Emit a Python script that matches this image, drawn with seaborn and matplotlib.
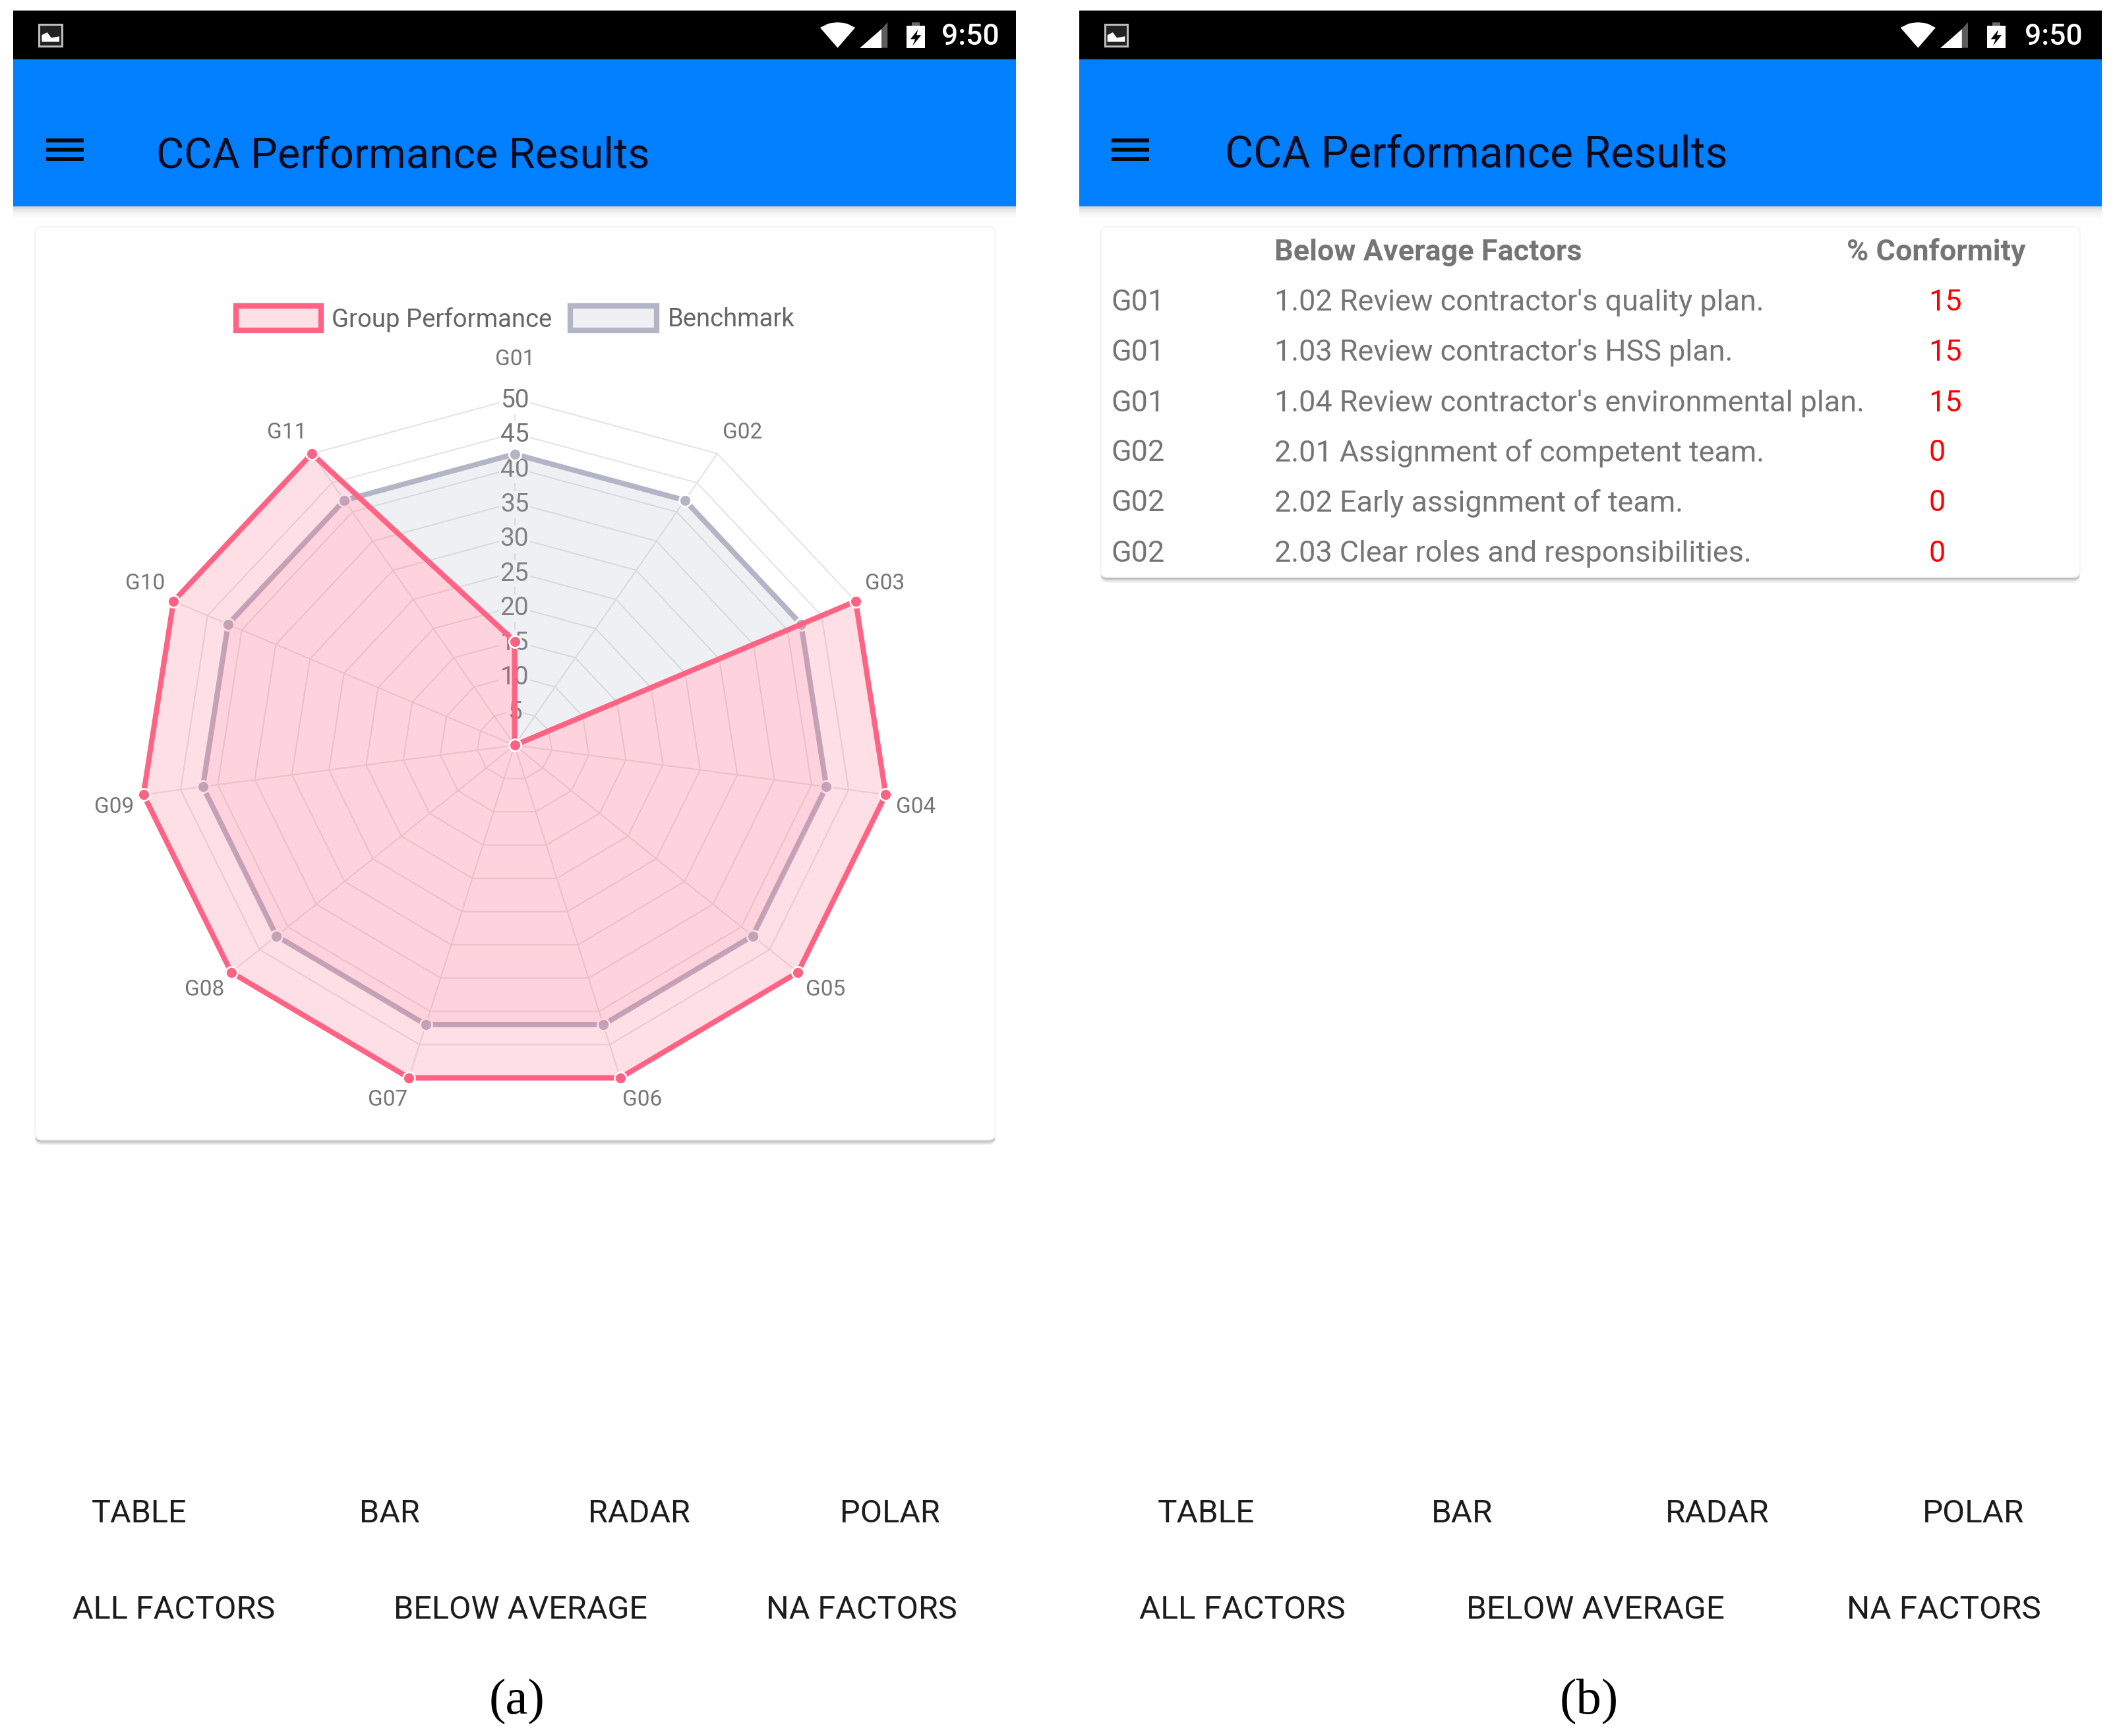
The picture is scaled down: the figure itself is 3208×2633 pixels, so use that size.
import numpy as np
import pandas as pd
import matplotlib
matplotlib.use("Agg")
import matplotlib.pyplot as plt
import seaborn as sns
from matplotlib.patches import FancyBboxPatch, Polygon, Rectangle
from matplotlib.path import Path

groups = ["G01", "G02", "G03", "G04", "G05", "G06", "G07", "G08", "G09", "G10", "G11"]
group_performance = [15, 0, 50, 50, 50, 50, 50, 50, 50, 50, 50]
benchmark = [42, 42, 42, 42, 42, 42, 42, 42, 42, 42, 42]
radial_ticks = [5, 10, 15, 20, 25, 30, 35, 40, 45, 50]

table_groups = ["G01", "G01", "G01", "G02", "G02", "G02"]
table_factors = [
    "1.02 Review contractor's quality plan.",
    "1.03 Review contractor's HSS plan.",
    "1.04 Review contractor's environmental plan.",
    "2.01 Assignment of competent team.",
    "2.02 Early assignment of team.",
    "2.03 Clear roles and responsibilities.",
]
table_conformity = [15, 15, 15, 0, 0, 0]

chart_types = ["TABLE", "BAR", "RADAR", "POLAR"]
factor_types = ["ALL FACTORS", "BELOW AVERAGE", "NA FACTORS"]

W, H = 1568, 1287  # layout units, about half of the output pixels
PINK = "#ff6384"
GREY = "#b3b5c6"
TEXT = "#757575"

sns.set_theme(style="white")
plt.rcParams["font.family"] = ["Roboto", "DejaVu Sans"]

fig = plt.figure(figsize=(32.08, 26.33), dpi=100, facecolor="white")
ui = fig.add_axes([0, 0, 1, 1], zorder=0)
ui.set_xlim(0, W)
ui.set_ylim(H, 0)
ui.axis("off")


def rect(x0, y0, x1, y1, color, **kw):
    ui.add_patch(Rectangle((x0, y0), x1 - x0, y1 - y0, facecolor=color, edgecolor="none", **kw))


def card(x0, y0, x1, y1):
    for off, a in [(4, 0.05), (3, 0.07), (2, 0.1), (1, 0.12)]:
        ui.add_patch(FancyBboxPatch((x0, y0 + off), x1 - x0, y1 - y0,
                                    boxstyle="round,pad=0,rounding_size=5",
                                    facecolor="black", edgecolor="none", alpha=a))
    ui.add_patch(FancyBboxPatch((x0, y0), x1 - x0, y1 - y0,
                                boxstyle="round,pad=0,rounding_size=5",
                                facecolor="white", edgecolor="#f4f4f4", linewidth=1.5))


def phone(x0, x1, title_x, title_size, icon_x, wifi_x, clock_x):
    rect(x0, 8, x1, 44, "black")
    rect(x0, 44, x1, 153, "#0080ff")
    for i in range(10):
        rect(x0, 153 + i, x1, 154 + i, "black", alpha=0.16 * (1 - i / 10) ** 2)
    # notification icon
    ui.add_patch(Rectangle((icon_x, 18), 17, 16, facecolor="#222222", edgecolor="#bdbdbd", linewidth=2.2))
    ui.add_patch(Polygon([(icon_x + 2, 31), (icon_x + 2, 26), (icon_x + 6, 24), (icon_x + 9, 28),
                          (icon_x + 15, 27), (icon_x + 15, 31)], facecolor="white", edgecolor="none"))
    # wifi, signal, battery
    ui.add_patch(Polygon([(wifi_x, 20.5), (wifi_x + 6, 17.5), (wifi_x + 13, 16.5), (wifi_x + 20, 17.5),
                          (wifi_x + 26, 20.5), (wifi_x + 13, 35.5)], facecolor="white", edgecolor="none"))
    ui.add_patch(Polygon([(wifi_x + 29.5, 35.5), (wifi_x + 45.5, 35.5), (wifi_x + 45.5, 21.5)],
                         facecolor="white", edgecolor="none"))
    ui.add_patch(Polygon([(wifi_x + 45.5, 35.5), (wifi_x + 50, 35.5), (wifi_x + 50, 16.5), (wifi_x + 45.5, 21.5)],
                         facecolor="#5c5c5c", edgecolor="none"))
    rect(wifi_x + 64, 19, wifi_x + 78, 35.5, "white")
    rect(wifi_x + 68, 16.5, wifi_x + 74, 19, "#6a6a6a")
    ui.add_patch(Polygon([(wifi_x + 72.5, 22), (wifi_x + 67, 29), (wifi_x + 70.5, 29), (wifi_x + 68.5, 34),
                          (wifi_x + 75, 26), (wifi_x + 71.5, 26)], facecolor="black", edgecolor="none"))
    ui.text(clock_x, 27.5, "9:50", color="white", fontsize=32, fontweight="medium", ha="left", va="center")
    # menu button and title
    for y in [104, 111, 118]:
        rect(x0 + 24, y - 1.5, x0 + 52, y + 1.5, "#0a0a0a")
    ui.text(title_x, 115.5, "CCA Performance Results", color="#0c0c1e", fontsize=title_size, ha="left", va="center")


phone(10, 753, 116, 46.7, 29, 608, 698)
phone(800, 1558, 908, 47.6, 819, 1409, 1501)
card(26, 168, 738, 845)
card(816, 168, 1542, 428)

# legend
for x0, x1, edge, face, label, tx in [(175, 238, PINK, "#ffe0e6", "Group Performance", 246),
                                      (423, 487, GREY, "#f0f0f4", "Benchmark", 495)]:
    ui.add_patch(Rectangle((x0, 227), x1 - x0, 18, facecolor=face, edgecolor=edge, linewidth=6))
    ui.text(tx, 237, label, color="#666666", fontsize=27.5, ha="left", va="center")

# radar, drawn on a polar axes stretched to the same oval as the screenshot
cx, cy, rx, ry = 381.5, 552.5, 278, 257
radar = fig.add_axes([(cx - rx) / W, 1 - (cy + ry) / H, 2 * rx / W, 2 * ry / H],
                     projection="polar", zorder=1)
radar.set_aspect("auto")
radar.patch.set_alpha(0)
radar.set_theta_zero_location("N")
radar.set_theta_direction(-1)
radar.grid(False)

theta = 2 * np.pi * np.arange(len(groups)) / len(groups)
theta_loop = np.append(theta, theta[0])
group_loop = np.array(group_performance + group_performance[:1], dtype=float)
bench_loop = np.array(benchmark + benchmark[:1], dtype=float)

for t in radial_ticks:
    radar.plot(theta_loop, [t] * len(theta_loop), color="#e4e4e4", lw=1.5, zorder=1, clip_on=False)
for a in theta:
    radar.plot([a, a], [0, 50], color="#e4e4e4", lw=1.5, zorder=1, clip_on=False)
for t in radial_ticks:
    radar.annotate(str(t), (0, t), xytext=(0, -2), textcoords="offset points", color=TEXT, fontsize=28,
                   ha="center", va="center", zorder=2, annotation_clip=False,
                   bbox=dict(facecolor="white", edgecolor="none", pad=1.5))

# grey only shows outside the group polygon, the overlap is a deeper pink in the screenshot
outside = Path(np.vstack([np.c_[theta_loop, group_loop],
                          np.c_[theta_loop[::-1], np.full(len(theta_loop), 60.0)]]))
inside = Path(np.c_[theta_loop, group_loop])

grey_fill = radar.fill(theta_loop, bench_loop, color=GREY, alpha=0.2, linewidth=0, zorder=3)[0]
grey_fill.set_clip_on(True)
grey_fill.set_clip_path(outside, radar.transData)

pink_fill = radar.fill(theta_loop, group_loop, color=PINK, alpha=0.2, linewidth=0, zorder=5)[0]
pink_fill.set_clip_on(False)
tint = radar.fill(theta_loop, bench_loop, color=PINK, alpha=0.09, linewidth=0, zorder=5.5)[0]
tint.set_clip_on(True)
tint.set_clip_path(inside, radar.transData)

series = [(bench_loop, GREY, 4), (group_loop, PINK, 6)]
for values, color, z_line in series:
    df = pd.DataFrame({"theta": theta_loop, "value": values})
    sns.lineplot(data=df, x="theta", y="value", ax=radar, sort=False, estimator=None, color=color,
                 linewidth=5.8, marker="o", markersize=13, markeredgecolor="white", markeredgewidth=2,
                 zorder=z_line, clip_on=False)

radar.set_ylim(0, 50)
radar.set_xlabel("")
radar.set_ylabel("")
radar.set_xticks([])
radar.set_yticks([])
radar.spines["polar"].set_visible(False)

# category labels sit just outside the outer ring
label_xy = [(382, 266.5), (550.5, 320.5), (656, 432.5), (679, 598.5), (612, 733.5), (476, 815.5),
            (287.5, 815.5), (151.5, 733.5), (84.5, 598.5), (107.5, 432.5), (212.5, 320.5)]
for name, (lx, ly) in zip(groups, label_xy):
    ui.text(lx, ly, name, color=TEXT, fontsize=24, ha="center", va="center")

# table
ui.text(945, 187, "Below Average Factors", color=TEXT, fontsize=32.4, fontweight="bold", ha="left", va="center")
ui.text(1369, 187, "% Conformity", color=TEXT, fontsize=32.4, fontweight="bold", ha="left", va="center")
row_y = [224.5, 261.5, 299, 336, 373, 410.5]
for y, g, factor, score in zip(row_y, table_groups, table_factors, table_conformity):
    ui.text(824, y, g, color=TEXT, fontsize=32.4, ha="left", va="center")
    ui.text(945, y, factor, color=TEXT, fontsize=32.4, ha="left", va="center")
    ui.text(1430, y, str(score), color="#ff0000", fontsize=32.4, ha="left", va="center")

# bottom buttons and captions
button_rows = [(1122.5, chart_types, [103, 289, 474, 660], [894, 1084, 1273, 1463]),
               (1193.5, factor_types, [129, 386, 639], [921, 1183, 1441])]
for y, labels, left_x, right_x in button_rows:
    for label, xa, xb in zip(labels, left_x, right_x):
        ui.text(xa, y, label, color="#1c1c1c", fontsize=35, ha="center", va="center")
        ui.text(xb, y, label, color="#1c1c1c", fontsize=35.6, ha="center", va="center")

ui.text(383, 1261.5, "(a)", color="black", fontsize=55, family="Liberation Serif", ha="center", va="center")
ui.text(1178, 1261.5, "(b)", color="black", fontsize=55, family="Liberation Serif", ha="center", va="center")

fig.savefig("out.png", dpi=100)
